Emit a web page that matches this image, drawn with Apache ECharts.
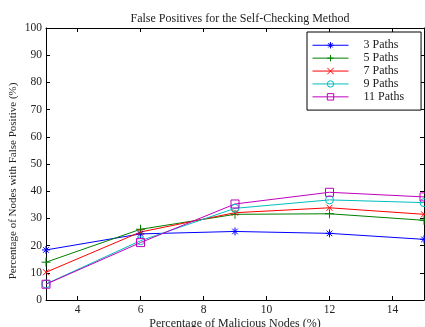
<!DOCTYPE html>
<html><head><meta charset="utf-8">
<script src="https://cdn.jsdelivr.net/npm/echarts@6/dist/echarts.min.js"></script>
<style>html,body{margin:0;padding:0;background:#fff}#c{width:425px;height:327px}</style>
</head><body><div id="c"></div>
<script>
const xValues = [3, 6, 9, 12, 15];
const paths3 = [18.4, 24.3, 25.2, 24.5, 22.3];
const paths5 = [13.9, 26.0, 31.5, 31.7, 29.3];
const paths7 = [10.2, 25.0, 32.1, 33.9, 31.5];
const paths9 = [5.9, 21.8, 33.7, 36.8, 35.8];
const paths11 = [5.8, 21.1, 35.3, 39.6, 37.9];
const seriesNames = ['3 Paths', '5 Paths', '7 Paths', '9 Paths', '11 Paths'];
const xTicks = [4, 6, 8, 10, 12, 14];

const F = 'Liberation Serif, Times New Roman, serif';
const asterisk = 'path://M5,0L5,10M0,5L10,5M1.5,1.5L8.5,8.5M8.5,1.5L1.5,8.5';
const plus = 'path://M5,0L5,10M0,5L10,5';
const cross = 'path://M0,0L10,10M10,0L0,10';
const circle = 'path://M0,5A5,5,0,1,1,10,5A5,5,0,1,1,0,5Z';
const square = 'path://M0,0L10,0L10,10L0,10Z';
const defs = [
  {d: paths3, c: '#0000ff', s: asterisk, z: 8},
  {d: paths5, c: '#008000', s: plus, z: 9},
  {d: paths7, c: '#ff0000', s: cross, z: 6},
  {d: paths9, c: '#00bfbf', s: circle, z: 8},
  {d: paths11, c: '#bf00bf', s: square, z: 8}
];
const series = defs.map((o, i) => ({
  name: seriesNames[i], type: 'line',
  data: xValues.map((x, j) => [x, o.d[j]]),
  symbol: o.s, symbolSize: o.z, showSymbol: true,
  lineStyle: {color: o.c, width: 1},
  itemStyle: {color: 'rgba(0,0,0,0)', borderColor: o.c, borderWidth: 1},
  animation: false
}));
const axisCommon = {
  axisLine: {show: true, onZero: false, lineStyle: {color: '#000', width: 1}},
  splitLine: {show: false}
};
const chart = echarts.init(document.getElementById('c'));
chart.setOption({
  animation: false,
  backgroundColor: '#fff',
  title: {text: 'False Positives for the Self-Checking Method', left: 235, textAlign: 'center', top: 8,
    textStyle: {fontFamily: F, fontSize: 12, fontWeight: 'normal', color: '#222'}},
  grid: {left: 46, right: 1, top: 28, bottom: 27, outerBoundsMode: 'none', containLabel: false},
  legend: {
    orient: 'vertical', left: 307, top: 32, padding: [7, 17, 7, 5],
    borderColor: '#000', borderWidth: 1, backgroundColor: '#fff',
    itemWidth: 36, itemHeight: 8, itemGap: 0.4,
    lineStyle: {width: 1},
    itemStyle: {borderWidth: 1},
    textStyle: {fontFamily: F, fontSize: 12, lineHeight: 12.5, color: '#222', padding: [0, 0, 0, 10]},
    data: seriesNames
  },
  xAxis: [
    Object.assign({}, axisCommon, {
      type: 'value', min: 3, max: 15, position: 'bottom',
      name: 'Percentage of Malicious Nodes (%)', nameLocation: 'middle', nameGap: 18,
      nameMoveOverlap: false,
      nameTextStyle: {fontFamily: F, fontSize: 12, color: '#222'},
      axisTick: {show: true, inside: true, length: 4, customValues: xTicks, lineStyle: {color: '#000'}},
      axisLabel: {fontFamily: F, fontSize: 11.5, color: '#222', margin: 4, customValues: xTicks}
    }),
    Object.assign({}, axisCommon, {
      type: 'value', min: 3, max: 15, position: 'top',
      axisTick: {show: true, inside: true, length: 4, customValues: xTicks, lineStyle: {color: '#000'}},
      axisLabel: {show: false}
    })
  ],
  yAxis: [
    Object.assign({}, axisCommon, {
      type: 'value', min: 0, max: 100, interval: 10, position: 'left',
      name: 'Percentage of Nodes with False Positive (%)', nameLocation: 'middle', nameGap: 27,
      nameMoveOverlap: false,
      nameTextStyle: {fontFamily: F, fontSize: 11, color: '#222', padding: [0, 34, 0, 0]},
      axisTick: {show: true, inside: true, length: 4, lineStyle: {color: '#000'}},
      axisLabel: {fontFamily: F, fontSize: 11.5, color: '#222', margin: 4}
    }),
    Object.assign({}, axisCommon, {
      type: 'value', min: 0, max: 100, interval: 10, position: 'right',
      axisTick: {show: true, inside: true, length: 4, lineStyle: {color: '#000'}},
      axisLabel: {show: false}
    })
  ],
  series: series
});
</script></body></html>
